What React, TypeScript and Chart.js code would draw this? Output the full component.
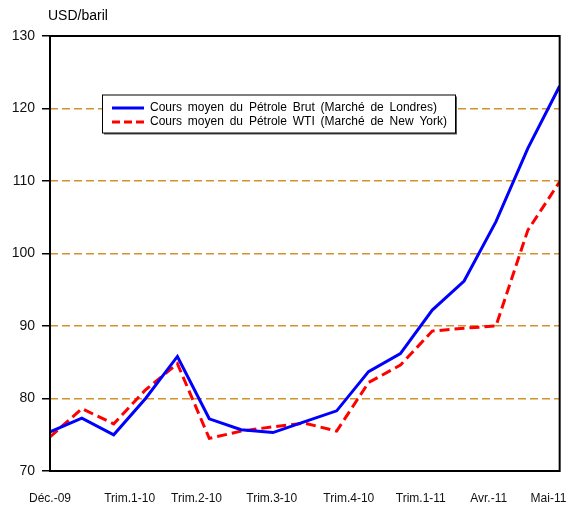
import React, { useEffect, useRef } from "react";
import { Chart, registerables } from "chart.js";

Chart.register(...registerables);

const brentLabel = "Cours moyen du Pétrole Brut (Marché de Londres)";
const wtiLabel = "Cours moyen du Pétrole WTI (Marché de New York)";
const unitLabel = "USD/baril";

const brentValues = [75.4, 77.3, 75.0, 80.0, 85.8, 77.2, 75.7, 75.3, 76.8, 78.3, 83.7, 86.2, 92.2, 96.2, 104.4, 114.5, 123.1];
const wtiValues = [74.7, 78.6, 76.5, 81.2, 84.8, 74.5, 75.5, 76.1, 76.6, 75.5, 82.2, 84.6, 89.3, 89.7, 90.0, 103.2, 109.9];

const xTickLabels = ["Déc.-09", "Trim.1-10", "Trim.2-10", "Trim.3-10", "Trim.4-10", "Trim.1-11", "Avr.-11", "Mai-11"];
const xTickAt = [0, 2.5, 4.6, 6.96, 9.38, 11.64, 13.77, 15.65];

const yMin = 70;
const yMax = 130;
const yStep = 10;

const FONT = "'Liberation Sans', Arial, sans-serif";

const framePlugin = {
  id: "frame",
  afterDatasetsDraw(chart: any) {
    const { ctx, chartArea } = chart;
    const { left, right, top, bottom } = chartArea;
    ctx.save();
    ctx.strokeStyle = "#000";
    ctx.lineWidth = 2;
    ctx.setLineDash([]);
    ctx.strokeRect(left, top, right - left, bottom - top);

    // unit title
    ctx.fillStyle = "#000";
    ctx.font = `14px ${FONT}`;
    ctx.textAlign = "left";
    ctx.textBaseline = "middle";
    ctx.fillText(unitLabel, 48, 16);

    // legend
    const lx = 102.5, ly = 95, lw = 353, lh = 38;
    ctx.fillStyle = "#555";
    ctx.fillRect(lx + 1.5, ly + 1.5, lw, lh);
    ctx.fillStyle = "#fff";
    ctx.fillRect(lx, ly, lw, lh);
    ctx.strokeStyle = "#000";
    ctx.lineWidth = 1;
    ctx.strokeRect(lx, ly, lw, lh);

    ctx.lineWidth = 3;
    ctx.strokeStyle = "#0000FF";
    ctx.beginPath();
    ctx.moveTo(112, 108);
    ctx.lineTo(144, 108);
    ctx.stroke();
    ctx.strokeStyle = "#FF0000";
    ctx.setLineDash([8, 4]);
    ctx.beginPath();
    ctx.moveTo(112, 122);
    ctx.lineTo(144, 122);
    ctx.stroke();
    ctx.setLineDash([]);

    ctx.fillStyle = "#000";
    ctx.font = `12px ${FONT}`;
    try { (ctx as any).wordSpacing = "2.5px"; } catch (e) {}
    ctx.fillText(brentLabel, 150, 108);
    ctx.fillText(wtiLabel, 150, 122);
    try { (ctx as any).wordSpacing = "0px"; } catch (e) {}
    ctx.restore();
  },
};

export default function App() {
  const canvasRef = useRef<HTMLCanvasElement | null>(null);

  useEffect(() => {
    if (!canvasRef.current) return;
    const chart = new Chart(canvasRef.current, {
      type: "line",
      data: {
        datasets: [
          {
            label: brentLabel,
            data: brentValues.map((v, i) => ({ x: i, y: v })),
            borderColor: "#0000FF",
            borderWidth: 3,
            pointRadius: 0,
            tension: 0,
            fill: false,
          },
          {
            label: wtiLabel,
            data: wtiValues.map((v, i) => ({ x: i, y: v })),
            borderColor: "#FF0000",
            borderWidth: 3,
            borderDash: [10, 5],
            pointRadius: 0,
            tension: 0,
            fill: false,
          },
        ],
      },
      options: {
        animation: false,
        responsive: false,
        maintainAspectRatio: false,
        layout: { padding: { top: 36, right: 27, left: 0, bottom: 0 } },
        plugins: {
          legend: { display: false },
          tooltip: { enabled: false },
          title: { display: false },
        },
        scales: {
          x: {
            type: "linear",
            min: 0,
            max: brentValues.length - 1,
            grid: { display: false, drawTicks: false },
            border: { display: false },
            afterBuildTicks: (scale: any) => {
              scale.ticks = xTickAt.map((v) => ({ value: v }));
            },
            afterFit: (scale: any) => {
              scale.height = 35;
            },
            ticks: {
              autoSkip: false,
              maxRotation: 0,
              minRotation: 0,
              padding: 20,
              color: "#111",
              font: { family: FONT, size: 12 },
              callback: (value: any) => {
                const idx = xTickAt.findIndex((p) => Math.abs(p - Number(value)) < 1e-6);
                return idx >= 0 ? xTickLabels[idx] : "";
              },
            },
          },
          y: {
            type: "linear",
            min: yMin,
            max: yMax,
            afterFit: (scale: any) => {
              scale.width = 50;
            },
            grid: {
              drawTicks: true,
              tickLength: 8,
              tickColor: "#000",
              tickWidth: 1.5,
              lineWidth: 1.5,
              color: (ctx: any) => {
                const v = ctx.tick ? ctx.tick.value : null;
                return v === yMin || v === yMax ? "rgba(0,0,0,0)" : "#D4922E";
              },
            },
            border: { display: false, dash: [8, 4] },
            ticks: {
              stepSize: yStep,
              padding: 7,
              color: "#111",
              font: { family: FONT, size: 14 },
            },
          },
        },
      },
      plugins: [framePlugin],
    });
    return () => chart.destroy();
  }, []);

  return (
    <div style={{ position: "fixed", left: 0, top: 0, width: 587, height: 506, background: "#fff" }}>
      <canvas ref={canvasRef} width={587} height={506} style={{ width: 587, height: 506 }} />
    </div>
  );
}
